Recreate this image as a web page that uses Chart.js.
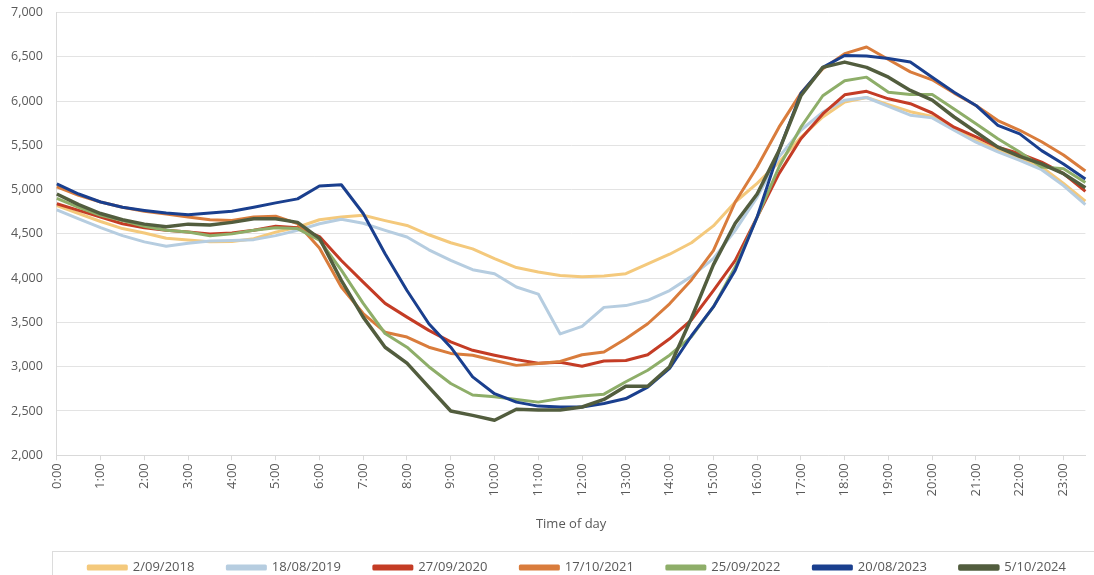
<!DOCTYPE html>
<html>
<head>
<meta charset="utf-8">
<script src="https://cdn.jsdelivr.net/npm/chart.js@4/dist/chart.umd.min.js"></script>
<style>
  html, body { margin: 0; padding: 0; background: #ffffff; overflow: hidden; width: 1094px; height: 575px; }
  canvas { display: block; margin-left: -10px; margin-top: -9px; }
</style>
</head>
<body>
<canvas id="demand" width="1114" height="593"></canvas>
<script>
// Half-hourly time of day
const times = [
  "0:00","0:30","1:00","1:30","2:00","2:30","3:00","3:30","4:00","4:30","5:00","5:30",
  "6:00","6:30","7:00","7:30","8:00","8:30","9:00","9:30","10:00","10:30","11:00","11:30",
  "12:00","12:30","13:00","13:30","14:00","14:30","15:00","15:30","16:00","16:30","17:00","17:30",
  "18:00","18:30","19:00","19:30","20:00","20:30","21:00","21:30","22:00","22:30","23:00","23:30"
];

// Axis settings
const yMin = 2000;
const yMax = 7000;
const yStep = 500;
const xTitle = "Time of day";

// One value per half hour for each day
const d2018 = [4820,4730,4640,4560,4510,4450,4430,4410,4415,4445,4520,4575,
               4660,4690,4710,4650,4595,4490,4400,4330,4220,4120,4070,4030,
               4015,4025,4050,4160,4270,4400,4590,4860,5070,5310,5590,5820,
               5990,6040,5960,5880,5825,5690,5555,5445,5350,5255,5070,4870];
const d2019 = [4770,4670,4570,4480,4410,4360,4395,4420,4425,4435,4480,4540,
               4615,4665,4620,4540,4465,4320,4200,4095,4050,3900,3820,3370,
               3455,3670,3690,3750,3860,4020,4220,4540,4915,5370,5670,5875,
               6010,6040,5940,5840,5810,5670,5535,5425,5330,5225,5045,4830];
const d2020 = [4840,4765,4690,4615,4570,4540,4520,4500,4510,4540,4585,4570,
               4470,4200,3955,3715,3560,3410,3280,3185,3130,3080,3040,3050,
               3005,3065,3070,3135,3315,3530,3860,4200,4690,5180,5575,5855,
               6070,6110,6025,5970,5865,5705,5595,5480,5405,5310,5180,4980];
const d2021 = [5030,4935,4860,4800,4755,4725,4690,4660,4650,4690,4700,4615,
               4340,3900,3600,3390,3335,3220,3150,3130,3070,3015,3035,3060,
               3135,3165,3315,3485,3710,3980,4310,4860,5255,5705,6090,6365,
               6535,6610,6470,6330,6240,6090,5950,5780,5670,5540,5390,5210];
const d2022 = [4900,4800,4710,4650,4585,4540,4520,4480,4500,4540,4570,4560,
               4430,4090,3715,3375,3220,3000,2810,2680,2660,2630,2600,2640,
               2670,2690,2830,2960,3130,3340,3675,4125,4690,5255,5705,6060,
               6230,6270,6100,6075,6075,5910,5745,5575,5425,5255,5235,5080];
const d2023 = [5065,4950,4860,4800,4765,4735,4715,4735,4755,4800,4850,4895,
               5040,5055,4730,4275,3860,3485,3220,2885,2695,2600,2555,2545,
               2545,2585,2640,2770,2980,3350,3675,4090,4690,5440,6085,6380,
               6515,6510,6480,6440,6270,6100,5950,5725,5630,5440,5290,5120];
const d2024 = [4950,4830,4730,4660,4610,4580,4610,4600,4630,4670,4670,4630,
               4450,3975,3560,3220,3040,2770,2500,2450,2395,2520,2510,2510,
               2545,2630,2780,2780,3000,3550,4150,4620,4950,5440,6060,6380,
               6440,6380,6270,6120,6010,5820,5650,5480,5375,5290,5180,5020];

const seriesNames  = ["2/09/2018","18/08/2019","27/09/2020","17/10/2021","25/09/2022","20/08/2023","5/10/2024"];
const seriesValues = [d2018, d2019, d2020, d2021, d2022, d2023, d2024];
const seriesColors = ["#f4c97c","#b6cde0","#c43c25","#d97c3c","#8eae69","#1a3f8e","#525d3e"];

const textColor = "#595959";
const gridColor = "#e3e3e3";
const fontFamily = "'Open Sans', 'Noto Sans', sans-serif";

const datasets = seriesNames.map((name, i) => ({
  label: name,
  data: seriesValues[i],
  borderColor: seriesColors[i],
  backgroundColor: seriesColors[i],
  borderWidth: i === seriesNames.length - 1 ? 3.5 : 3,
  pointRadius: 0,
  pointHoverRadius: 0,
  tension: 0,
  fill: false,
  borderJoinStyle: "round",
  borderCapStyle: "butt",
  // later days are drawn above earlier ones
  order: seriesNames.length - i
}));

// Centre the legend row under the plot area and frame it with a thin border
const legendFrame = {
  id: "legendFrame",
  beforeDraw(chart) {
    const lg = chart.legend;
    if (!lg) return;
    lg.left = chart.chartArea.left - 8;
    lg.right = chart.chartArea.right + 20;
  },
  afterDraw(chart) {
    const lg = chart.legend;
    if (!lg) return;
    const c = chart.ctx;
    c.save();
    c.strokeStyle = "#dcdcdc";
    c.lineWidth = 1;
    const x = Math.round(chart.chartArea.left - 5) + 0.5;
    const y = Math.round(lg.top + 23) + 0.5;
    c.strokeRect(x, y, chart.width - x + 10, chart.height);
    c.restore();
  }
};

new Chart(document.getElementById("demand"), {
  type: "line",
  data: { labels: times, datasets },
  plugins: [legendFrame],
  options: {
    responsive: false,
    devicePixelRatio: 1,
    animation: false,
    events: [],
    layout: { padding: { left: 7, right: 3, top: 4, bottom: 0 } },
    plugins: {
      tooltip: { enabled: false },
      legend: {
        position: "bottom",
        labels: {
          boxWidth: 38,
          boxHeight: 3,
          padding: 33,
          color: textColor,
          font: { family: fontFamily, size: 13 },
          sort: (a, b) => a.datasetIndex - b.datasetIndex
        }
      }
    },
    scales: {
      x: {
        type: "category",
        offset: false,
        grid: {
          drawOnChartArea: false,
          drawTicks: true,
          tickLength: 5,
          tickColor: (ctx) => (ctx.index % 2 === 0 ? "#d9d9d9" : "rgba(0,0,0,0)")
        },
        border: { display: true, color: "#d9d9d9", width: 1 },
        ticks: {
          autoSkip: false,
          minRotation: 90,
          maxRotation: 90,
          padding: 3,
          color: textColor,
          font: { family: fontFamily, size: 13 },
          callback: (v, i) => (i % 2 === 0 ? times[i] : "")
        },
        title: {
          display: true,
          text: xTitle,
          color: textColor,
          font: { family: fontFamily, size: 13 },
          padding: { top: 17, bottom: -4 }
        }
      },
      y: {
        min: yMin,
        max: yMax,
        grid: { color: gridColor, lineWidth: 1, drawTicks: false },
        border: { display: true, color: "#d9d9d9", width: 1 },
        ticks: {
          stepSize: yStep,
          padding: 14,
          color: textColor,
          font: { family: fontFamily, size: 12.5 },
          callback: (v) => Number(v).toLocaleString("en-US")
        }
      }
    }
  }
});
</script>
</body>
</html>
